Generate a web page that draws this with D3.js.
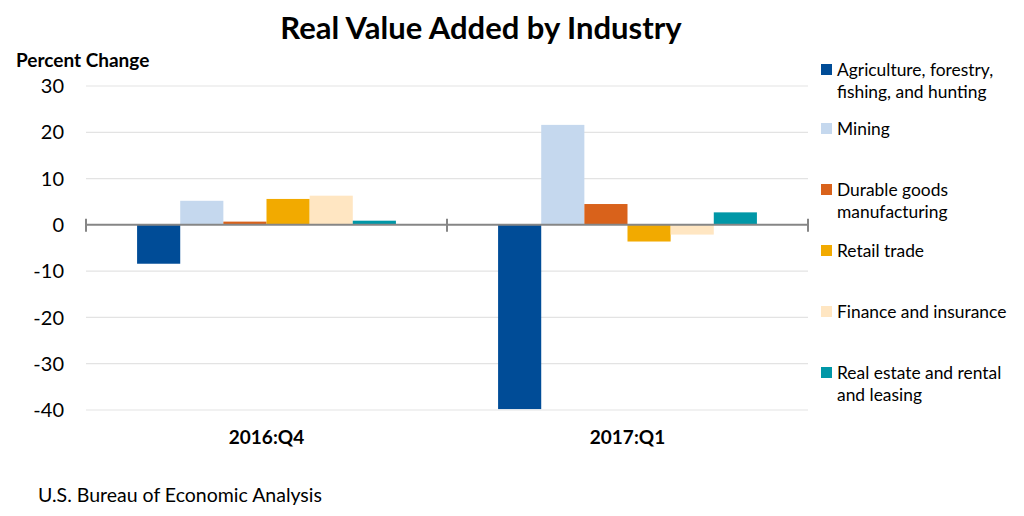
<!DOCTYPE html>
<meta charset="utf-8">
<script src="https://d3js.org/d3.v7.min.js"></script>
<html>
<head>
<style>
  body { margin: 0; background: #fff; }
  text { font-family: Lato, "Open Sans", sans-serif; fill: #000; }
</style>
</head>
<body>
<div id="chart"></div>
<script>
// data
var quarters = ["2016:Q4", "2017:Q1"];
var industries = ["Agriculture, forestry, fishing, and hunting", "Mining", "Durable goods manufacturing",
                  "Retail trade", "Finance and insurance", "Real estate and rental and leasing"];
var legendLines = [["Agriculture, forestry,", "fishing, and hunting"], ["Mining"], ["Durable goods", "manufacturing"],
                   ["Retail trade"], ["Finance and insurance"], ["Real estate and rental", "and leasing"]];
var q4Values = [-8.4, 5.2, 0.7, 5.6, 6.3, 0.9];
var q1Values = [-39.8, 21.6, 4.5, -3.6, -2.1, 2.7];
var yTicks = [30, 20, 10, 0, -10, -20, -30, -40];
var colors = ["#004c97", "#c5d8ee", "#d9621b", "#f2aa00", "#ffe6c2", "#0097a7"];

var W = 1024, H = 516;
var margin = {top: 86, right: 216, bottom: 106, left: 86};
var width = W - margin.left - margin.right,
    height = H - margin.top - margin.bottom;

var svg = d3.select("#chart").append("svg")
    .attr("width", W)
    .attr("height", H);

var g = svg.append("g")
    .attr("transform", "translate(" + margin.left + "," + margin.top + ")");

var y = d3.scaleLinear().domain([30, -40]).range([0, height]);
var x0 = d3.scaleBand().domain(quarters).range([0, width]).paddingInner(0.283).paddingOuter(0.1415);
var x1 = d3.scaleBand().domain(d3.range(industries.length)).range([0, x0.bandwidth()]);
var xFull = d3.scaleBand().domain(quarters).range([0, width]);

// gridlines
g.selectAll(".grid").data(yTicks.filter(function(d) { return d !== 0; }))
  .enter().append("line")
    .attr("x1", 0).attr("x2", width)
    .attr("y1", function(d) { return y(d); })
    .attr("y2", function(d) { return y(d); })
    .attr("stroke", "#e3e3e3")
    .attr("stroke-width", 1.2);

// y labels
g.selectAll(".ylab").data(yTicks)
  .enter().append("text")
    .attr("x", -22)
    .attr("y", function(d) { return y(d); })
    .attr("dy", "0.36em")
    .attr("text-anchor", "end")
    .style("font-size", "20px")
    .text(function(d) { return d; });

var series = [q4Values, q1Values];
var groups = g.selectAll(".grp").data(quarters)
  .enter().append("g")
    .attr("transform", function(d) { return "translate(" + x0(d) + ",0)"; });

groups.selectAll("rect")
  .data(function(d, i) { return series[i].map(function(v, j) { return {v: v, j: j}; }); })
  .enter().append("rect")
    .attr("x", function(d) { return x1(d.j); })
    .attr("width", x1.bandwidth())
    .attr("y", function(d) { return y(Math.max(0, d.v)); })
    .attr("height", function(d) { return Math.abs(y(d.v) - y(0)); })
    .attr("fill", function(d) { return colors[d.j]; });

// zero axis
g.append("line")
    .attr("x1", 0).attr("x2", width)
    .attr("y1", y(0)).attr("y2", y(0))
    .attr("stroke", "#868686").attr("stroke-width", 2);

var tickX = [0, xFull.step(), width];
g.selectAll(".tk").data(tickX)
  .enter().append("line")
    .attr("x1", function(d) { return d; }).attr("x2", function(d) { return d; })
    .attr("y1", y(0) - 6).attr("y2", y(0) + 7)
    .attr("stroke", "#868686").attr("stroke-width", 2);

// category labels
g.selectAll(".cat").data(quarters)
  .enter().append("text")
    .attr("x", function(d) { return xFull(d) + xFull.bandwidth() / 2; })
    .attr("y", height + 34)
    .attr("text-anchor", "middle")
    .style("font-size", "19px")
    .style("font-weight", "bold")
    .text(function(d) { return d; });

// title etc
svg.append("text")
    .attr("x", 481).attr("y", 39)
    .attr("text-anchor", "middle")
    .style("font-size", "31px")
    .style("font-weight", "bold")
    .text("Real Value Added by Industry");

svg.append("text")
    .attr("x", 16).attr("y", 67)
    .style("font-size", "19px")
    .style("font-weight", "bold")
    .text("Percent Change");

svg.append("text")
    .attr("x", 38).attr("y", 502)
    .style("font-size", "19.5px")
    .text("U.S. Bureau of Economic Analysis");

// legend
var legendY = [70, 129, 190, 251, 312, 373];
var lg = svg.selectAll(".lg").data(industries)
  .enter().append("g")
    .attr("transform", function(d, i) { return "translate(821," + legendY[i] + ")"; });

lg.append("rect")
    .attr("x", 0).attr("y", -6)
    .attr("width", 11).attr("height", 11)
    .attr("fill", function(d, i) { return colors[i]; });

lg.append("text")
    .attr("x", 16).attr("y", 0)
    .style("font-size", "17.4px")
    .selectAll("tspan")
    .data(function(d, i) { return legendLines[i]; })
    .enter().append("tspan")
      .attr("x", 16)
      .attr("dy", function(d, k) { return k === 0 ? "0.35em" : "22px"; })
      .text(function(d) { return d; });
</script>
</body>
</html>
